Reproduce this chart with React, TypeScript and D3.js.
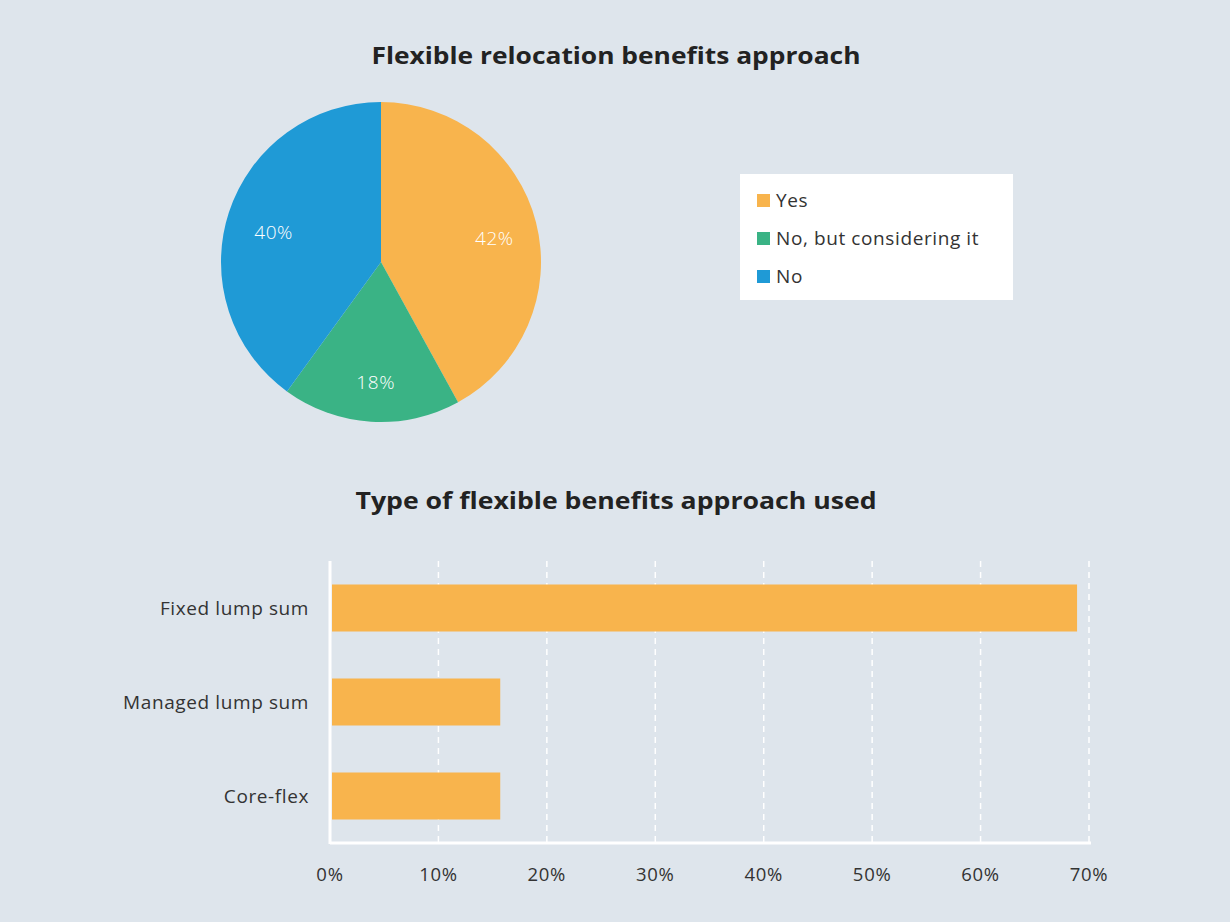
import React, { useEffect, useRef } from "react";
import * as d3 from "d3";

const pieLabels = ["Yes", "No, but considering it", "No"];
const pieValues = [42, 18, 40];
const pieColors = ["#f8b44d", "#3ab385", "#1f9ad6"];

const barCategories = ["Fixed lump sum", "Managed lump sum", "Core-flex"];
const barValues = [68.9, 15.7, 15.7];
const xTicks = [0, 10, 20, 30, 40, 50, 60, 70];

const W = 1230;
const H = 922;
const BG = "#dee5ec";
const FONT = "'Open Sans', 'DejaVu Sans', sans-serif";
const TEXT = "#333";

export default function App() {
  const ref = useRef<SVGSVGElement>(null);

  useEffect(() => {
    document.body.style.margin = "0";
    const svg = d3.select(ref.current);
    svg.selectAll("*").remove();

    svg.append("rect").attr("width", W).attr("height", H).attr("fill", BG);

    // Titles
    svg.append("text")
      .attr("x", 616).attr("y", 64)
      .attr("text-anchor", "middle")
      .attr("font-family", FONT).attr("font-weight", 700).attr("font-size", 24)
      .attr("textLength", 489).attr("lengthAdjust", "spacingAndGlyphs")
      .attr("fill", "#222")
      .text("Flexible relocation benefits approach");

    svg.append("text")
      .attr("x", 616).attr("y", 509)
      .attr("text-anchor", "middle")
      .attr("font-family", FONT).attr("font-weight", 700).attr("font-size", 24)
      .attr("textLength", 521).attr("lengthAdjust", "spacingAndGlyphs")
      .attr("fill", "#222")
      .text("Type of flexible benefits approach used");

    // Pie
    const cx = 381, cy = 262, r = 160;
    const pie = d3.pie<number>().sort(null).value((d) => d);
    const arcs = pie(pieValues);
    const arc = d3.arc<d3.PieArcDatum<number>>().innerRadius(0).outerRadius(r);
    const labelArc = d3.arc<d3.PieArcDatum<number>>().innerRadius(230).outerRadius(0);
    const g = svg.append("g").attr("transform", `translate(${cx},${cy})`);
    g.selectAll("path.slice")
      .data(arcs)
      .enter()
      .append("path")
      .attr("class", "slice")
      .attr("d", arc as any)
      .attr("fill", (_d, i) => pieColors[i]);
    g.selectAll("text.lbl")
      .data(arcs)
      .enter()
      .append("text")
      .attr("class", "lbl")
      .attr("transform", (d) => {
        const [x, y] = labelArc.centroid(d);
        return `translate(${x + 2},${y + 7})`;
      })
      .attr("text-anchor", "middle")
      .attr("dominant-baseline", "middle")
      .attr("font-family", FONT).attr("font-weight", 300).attr("font-size", 19)
      .attr("letter-spacing", 0.6)
      .attr("fill", "#fff")
      .text((d) => `${d.data}%`);

    // Legend
    const lg = svg.append("g");
    lg.append("rect").attr("x", 740).attr("y", 174).attr("width", 273).attr("height", 126).attr("fill", "#fff");
    pieLabels.forEach((lab, i) => {
      const y = 200 + i * 38;
      lg.append("rect").attr("x", 757).attr("y", y - 6).attr("width", 13).attr("height", 13).attr("fill", pieColors[i]);
      lg.append("text")
        .attr("x", 776).attr("y", y)
        .attr("dominant-baseline", "central")
        .attr("font-family", FONT).attr("font-size", 19)
        .attr("letter-spacing", 0.6)
        .attr("fill", TEXT)
        .text(lab);
    });

    // Bar chart
    const x = d3.scaleLinear().domain([0, 70]).range([330, 1089]);
    const y = d3.scaleBand<string>().domain(barCategories).range([561, 843]).paddingInner(0.5).paddingOuter(0.25);

    const bg = svg.append("g");
    xTicks.slice(1).forEach((t) => {
      bg.append("line")
        .attr("x1", x(t)).attr("x2", x(t))
        .attr("y1", 561).attr("y2", 843)
        .attr("stroke", "#fff").attr("stroke-width", 1.5)
        .attr("stroke-dasharray", "6,5");
    });

    bg.selectAll("rect.bar")
      .data(barValues)
      .enter()
      .append("rect")
      .attr("class", "bar")
      .attr("x", x(0) + 2)
      .attr("y", (_d, i) => y(barCategories[i])!)
      .attr("width", (d) => x(d) - x(0) - 2)
      .attr("height", y.bandwidth())
      .attr("fill", "#f8b44d");

    // axes lines
    bg.append("line").attr("x1", x(0)).attr("x2", x(0)).attr("y1", 561).attr("y2", 844)
      .attr("stroke", "#fff").attr("stroke-width", 3);
    bg.append("line").attr("x1", x(0)).attr("x2", x(70) + 2).attr("y1", 843).attr("y2", 843)
      .attr("stroke", "#fff").attr("stroke-width", 3);

    barCategories.forEach((c) => {
      bg.append("text")
        .attr("x", 309).attr("y", y(c)! + y.bandwidth() / 2)
        .attr("text-anchor", "end")
        .attr("dominant-baseline", "central")
        .attr("font-family", FONT).attr("font-size", 19)
        .attr("letter-spacing", 0.6)
        .attr("fill", TEXT)
        .text(c);
    });

    xTicks.forEach((t) => {
      bg.append("text")
        .attr("x", x(t)).attr("y", 873)
        .attr("text-anchor", "middle")
        .attr("dominant-baseline", "central")
        .attr("font-family", FONT).attr("font-size", 18.5)
        .attr("letter-spacing", 0.7)
        .attr("fill", TEXT)
        .text(`${t}%`);
    });
  }, []);

  return (
    <svg ref={ref} width={W} height={H} style={{ display: "block", position: "absolute", left: 0, top: 0 }} />
  );
}
